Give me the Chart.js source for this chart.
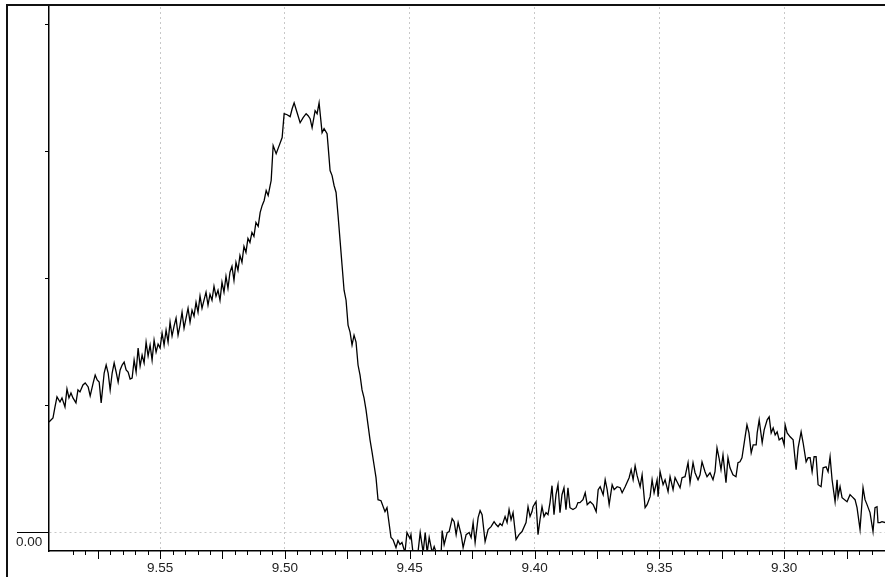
<!DOCTYPE html>
<html>
<head>
<meta charset="utf-8">
<script src="https://cdn.jsdelivr.net/npm/chart.js@4.4.1/dist/chart.umd.min.js"></script>
<style>
  html, body { margin: 0; padding: 0; background: #fff; }
  #wrap { width: 885px; height: 577px; }
</style>
</head>
<body>
<div id="wrap"><canvas id="spectrum" width="885" height="577"></canvas></div>
<script>
// Chemical shift (ppm) from left to right
const shifts = [
    9.5945, 9.5929, 9.5921, 9.5913, 9.5901, 9.5893, 9.5881, 9.5873, 9.5865, 9.5857,
    9.5849, 9.5837, 9.5829, 9.5821, 9.5809, 9.5800, 9.5788, 9.5780, 9.5768, 9.5760,
    9.5752, 9.5744, 9.5736, 9.5724, 9.5716, 9.5708, 9.5700, 9.5692, 9.5684, 9.5676,
    9.5668, 9.5660, 9.5652, 9.5644, 9.5636, 9.5628, 9.5620, 9.5612,
    9.5604, 9.5596, 9.5588, 9.5580, 9.5572, 9.5564, 9.5556, 9.5548, 9.5540, 9.5532,
    9.5524, 9.5516, 9.5508, 9.5500, 9.5492, 9.5484, 9.5476, 9.5468, 9.5460, 9.5452,
    9.5444, 9.5436, 9.5428, 9.5420, 9.5412, 9.5404, 9.5396, 9.5388, 9.5380, 9.5372,
    9.5364, 9.5356, 9.5348, 9.5340, 9.5332, 9.5324, 9.5316, 9.5308, 9.5300, 9.5292,
    9.5284, 9.5276, 9.5268, 9.5260, 9.5252, 9.5244, 9.5236, 9.5228, 9.5220, 9.5212,
    9.5204, 9.5196, 9.5188, 9.5180, 9.5172, 9.5164, 9.5156, 9.5148, 9.5140, 9.5132,
    9.5124, 9.5116, 9.5107, 9.5099, 9.5091, 9.5083, 9.5075, 9.5067, 9.5059,
    9.5055, 9.5047, 9.5035, 9.5023, 9.5011, 9.5003, 9.4991, 9.4979, 9.4971, 9.4963,
    9.4951, 9.4939, 9.4927, 9.4915, 9.4907, 9.4899, 9.4891, 9.4879, 9.4871, 9.4863,
    9.4851, 9.4843, 9.4831, 9.4827, 9.4819, 9.4811, 9.4803, 9.4795, 9.4787, 9.4779,
    9.4771, 9.4763, 9.4755, 9.4747, 9.4739, 9.4731, 9.4723, 9.4715, 9.4707, 9.4699,
    9.4691, 9.4683, 9.4675, 9.4667, 9.4659, 9.4651, 9.4643, 9.4635, 9.4627, 9.4615,
    9.4599, 9.4591, 9.4575, 9.4567, 9.4555, 9.4547, 9.4539, 9.4531, 9.4519, 9.4511,
    9.4499, 9.4495, 9.4487, 9.4475, 9.4467, 9.4458, 9.4446, 9.4438, 9.4430, 9.4422,
    9.4410, 9.4402, 9.4394, 9.4386, 9.4374, 9.4370, 9.4362, 9.4350, 9.4342, 9.4330,
    9.4322, 9.4314, 9.4306, 9.4294, 9.4286, 9.4274, 9.4262, 9.4254, 9.4246, 9.4238,
    9.4226, 9.4218, 9.4210, 9.4198, 9.4186, 9.4174, 9.4162, 9.4154, 9.4146, 9.4138,
    9.4130, 9.4118, 9.4110, 9.4102, 9.4094, 9.4086, 9.4074, 9.4062, 9.4050, 9.4034,
    9.4026, 9.4018, 9.4010, 9.4006, 9.3994, 9.3986, 9.3978, 9.3970, 9.3962, 9.3954,
    9.3946, 9.3938, 9.3930, 9.3922, 9.3914, 9.3906, 9.3898, 9.3890, 9.3882, 9.3874,
    9.3866, 9.3858, 9.3846, 9.3834, 9.3826, 9.3818, 9.3806, 9.3797, 9.3789, 9.3777,
    9.3765, 9.3753, 9.3745, 9.3737, 9.3725, 9.3717, 9.3709, 9.3701, 9.3689, 9.3681,
    9.3669, 9.3657, 9.3649, 9.3637, 9.3621, 9.3613, 9.3605, 9.3597, 9.3589, 9.3577,
    9.3569, 9.3557, 9.3549, 9.3537, 9.3529, 9.3521, 9.3509, 9.3505, 9.3497, 9.3485,
    9.3477, 9.3465, 9.3457, 9.3445, 9.3437, 9.3429, 9.3417, 9.3409, 9.3397, 9.3385,
    9.3377, 9.3365, 9.3357, 9.3345, 9.3337, 9.3329, 9.3317, 9.3309, 9.3297, 9.3285,
    9.3277, 9.3269, 9.3261, 9.3253, 9.3245, 9.3233, 9.3225, 9.3217, 9.3205, 9.3193,
    9.3185, 9.3177, 9.3169, 9.3157, 9.3149, 9.3141, 9.3132, 9.3124, 9.3112, 9.3108,
    9.3100, 9.3088, 9.3080, 9.3068, 9.3060, 9.3052, 9.3044, 9.3036, 9.3028, 9.3020,
    9.3008, 9.3000, 9.2996, 9.2988, 9.2976, 9.2964, 9.2952, 9.2944, 9.2932, 9.2924,
    9.2912, 9.2904, 9.2896, 9.2888, 9.2880, 9.2872, 9.2864, 9.2852, 9.2844, 9.2832,
    9.2824, 9.2816, 9.2808, 9.2796, 9.2788, 9.2784, 9.2776, 9.2768, 9.2748, 9.2736,
    9.2728, 9.2716, 9.2708, 9.2696, 9.2684, 9.2676, 9.2668, 9.2656, 9.2644, 9.2636,
    9.2628, 9.2624, 9.2616, 9.2608, 9.2596
];

// Intensity at each shift (one unit per y tick)
const intensity = [
    0.867, 0.899, 0.985, 1.064, 1.024, 1.056, 0.985, 1.126, 1.056, 1.095,
    1.056, 1.017, 1.119, 1.103, 1.158, 1.174, 1.142, 1.072, 1.174, 1.236,
    1.197, 1.181, 1.017, 1.252, 1.315, 1.252, 1.119, 1.252, 1.331, 1.260,
    1.181, 1.276, 1.315, 1.338, 1.276, 1.260, 1.205, 1.213,
    1.354, 1.260, 1.448, 1.307, 1.393, 1.331, 1.495, 1.386, 1.472, 1.354,
    1.511, 1.417, 1.480, 1.448, 1.566, 1.472, 1.590, 1.495, 1.652, 1.543,
    1.621, 1.684, 1.550, 1.629, 1.731, 1.605, 1.684, 1.762, 1.652, 1.747,
    1.700, 1.809, 1.731, 1.857, 1.762, 1.825, 1.888, 1.786, 1.872, 1.825,
    1.935, 1.857, 1.904, 1.825, 1.966, 1.888, 2.014, 1.919, 2.045, 2.092,
    1.982, 2.123, 2.061, 2.178, 2.123, 2.249, 2.202, 2.312, 2.280, 2.359,
    2.328, 2.437, 2.406, 2.516, 2.571, 2.610, 2.689, 2.649, 2.728,
    2.767, 3.042, 2.979, 3.042, 3.105, 3.293, 3.285, 3.270, 3.332, 3.379,
    3.301, 3.222, 3.262, 3.293, 3.277, 3.254, 3.183, 3.317, 3.293, 3.379,
    3.144, 3.175, 3.136, 3.042, 2.846, 2.806, 2.728, 2.673, 2.492, 2.296,
    2.100, 1.904, 1.825, 1.629, 1.574, 1.472, 1.550, 1.495, 1.315, 1.236,
    1.119, 1.056, 0.962, 0.844, 0.726, 0.632, 0.530, 0.428, 0.255, 0.247,
    0.161, 0.192, -0.043, -0.059, -0.122, -0.067, -0.098, -0.082, -0.161, -0.004,
    -0.051, -0.020, -0.161, -0.177, -0.161, -0.004, -0.161, -0.004, -0.161, -0.043,
    -0.161, -0.114, -0.161, -0.184, -0.161, 0.012, -0.098, -0.004, 0.004, 0.106,
    0.082, -0.020, 0.075, -0.020, -0.122, -0.020, -0.004, -0.043, 0.075, -0.082,
    0.114, 0.169, 0.137, -0.075, 0.020, 0.043, 0.082, 0.059, 0.043, 0.067,
    0.051, 0.122, 0.075, 0.177, 0.098, 0.153, -0.059, -0.020, 0.004, 0.075,
    0.200, 0.122, 0.161, 0.200, 0.239, -0.020, 0.098, 0.200, 0.122, 0.153,
    0.137, 0.232, 0.365, 0.137, 0.294, 0.373, 0.153, 0.294, 0.349, 0.177,
    0.349, 0.192, 0.177, 0.192, 0.232, 0.232, 0.255, 0.310, 0.216, 0.239,
    0.216, 0.161, 0.334, 0.357, 0.294, 0.412, 0.334, 0.216, 0.373, 0.334,
    0.357, 0.349, 0.310, 0.357, 0.428, 0.491, 0.412, 0.522, 0.444, 0.357,
    0.451, 0.192, 0.216, 0.279, 0.412, 0.310, 0.412, 0.279, 0.475, 0.373,
    0.412, 0.318, 0.436, 0.334, 0.428, 0.396, 0.349, 0.428, 0.436, 0.546,
    0.389, 0.546, 0.467, 0.412, 0.451, 0.553, 0.475, 0.436, 0.467, 0.412,
    0.475, 0.663, 0.585, 0.491, 0.608, 0.389, 0.585, 0.506, 0.451, 0.436,
    0.546, 0.553, 0.585, 0.742, 0.844, 0.781, 0.624, 0.687, 0.687, 0.781,
    0.883, 0.703, 0.805, 0.883, 0.907, 0.781, 0.820, 0.765, 0.789, 0.726,
    0.742, 0.687, 0.844, 0.781, 0.750, 0.726, 0.491, 0.663, 0.789, 0.703,
    0.553, 0.585, 0.585, 0.475, 0.593, 0.593, 0.373, 0.357, 0.506, 0.514,
    0.475, 0.593, 0.412, 0.239, 0.412, 0.279, 0.357, 0.271, 0.239, 0.294,
    0.279, 0.255, 0.192, 0.020, 0.349, 0.255, 0.216, 0.153, 0.004, 0.192,
    0.200, 0.075, 0.075, 0.082, 0.075
];

// Axis ranges and ticks
const xRange = [9.2596, 9.5945];
const yRange = [-0.149, 4.133];
const xMinorStep = 0.005;
const xMidStep = 0.025;
const xLabelStep = 0.05;
const yTickValues = [0, 1, 2, 3, 4];
const yTickLabels = ['0.00', '', '', '', ''];

const FONT = '"Liberation Sans", Arial, Helvetica, sans-serif';
const GRID = '#c8c8c8';
const NONE = 'rgba(0,0,0,0)';

const isMultiple = (v, step) => Math.abs(v / step - Math.round(v / step)) < 1e-6;

// Frame, tick marks and the zero label
const axisDecor = {
    id: 'axisDecor',
    afterDraw(chart) {
        const { ctx, chartArea, scales: { x, y } } = chart;
        ctx.save();

        ctx.fillStyle = '#111';
        ctx.fillRect(6, 4, 2, chart.height);
        ctx.fillRect(6, 4, chart.width, 2);

        ctx.strokeStyle = '#000';
        ctx.lineWidth = 1;
        ctx.beginPath();
        x.ticks.forEach(t => {
            if (!isMultiple(t.value, xMinorStep)) return;
            const px = Math.round(x.getPixelForValue(t.value)) + 0.5;
            const len = isMultiple(t.value, xMidStep) ? 8 : 4;
            ctx.moveTo(px, chartArea.bottom);
            ctx.lineTo(px, chartArea.bottom + len);
        });
        yTickValues.forEach((v, i) => {
            const py = Math.round(y.getPixelForValue(v)) + 0.5;
            ctx.moveTo(yTickLabels[i] ? 17 : chartArea.left - 4, py);
            ctx.lineTo(chartArea.left, py);
        });
        ctx.stroke();

        ctx.fillStyle = '#222';
        ctx.font = '13.5px ' + FONT;
        ctx.textBaseline = 'alphabetic';
        yTickLabels.forEach((label, i) => {
            if (!label) return;
            ctx.fillText(label, 16, y.getPixelForValue(yTickValues[i]) + 14);
        });

        ctx.restore();
    }
};

new Chart(document.getElementById('spectrum'), {
    type: 'line',
    data: {
        datasets: [{
            data: shifts.map((s, i) => ({ x: s, y: intensity[i] })),
            borderColor: '#000',
            borderWidth: 1.3,
            pointRadius: 0,
            tension: 0,
            clip: 0
        }]
    },
    options: {
        responsive: false,
        devicePixelRatio: 1,
        animation: false,
        layout: { padding: { left: 49, top: 7, right: 0, bottom: 0 } },
        plugins: {
            legend: { display: false },
            tooltip: { enabled: false }
        },
        scales: {
            x: {
                type: 'linear',
                reverse: true,
                min: xRange[0],
                max: xRange[1],
                afterFit: s => {
                    s.height = 26;
                    s.paddingLeft = 0;
                    s.paddingRight = 0;
                },
                grid: {
                    drawTicks: false,
                    lineWidth: 1,
                    color: c => (c.tick && isMultiple(c.tick.value, xLabelStep)) ? GRID : NONE
                },
                border: { display: true, color: '#000', width: 1.5, dash: [2, 3] },
                ticks: {
                    stepSize: xMinorStep,
                    autoSkip: false,
                    maxRotation: 0,
                    padding: 9,
                    color: '#222',
                    font: { family: FONT, size: 13.5 },
                    callback: v => isMultiple(v, xLabelStep) ? v.toFixed(2) : ''
                }
            },
            y: {
                min: yRange[0],
                max: yRange[1],
                afterFit: s => {
                    s.width = 0;
                    s.paddingTop = 0;
                    s.paddingBottom = 0;
                },
                grid: {
                    drawTicks: false,
                    lineWidth: 1,
                    color: c => (c.tick && Math.abs(c.tick.value) < 1e-9) ? GRID : NONE
                },
                border: { display: true, color: '#000', width: 1.5, dash: [2, 3] },
                ticks: { display: false, stepSize: 1 }
            }
        }
    },
    plugins: [axisDecor]
});
</script>
</body>
</html>
